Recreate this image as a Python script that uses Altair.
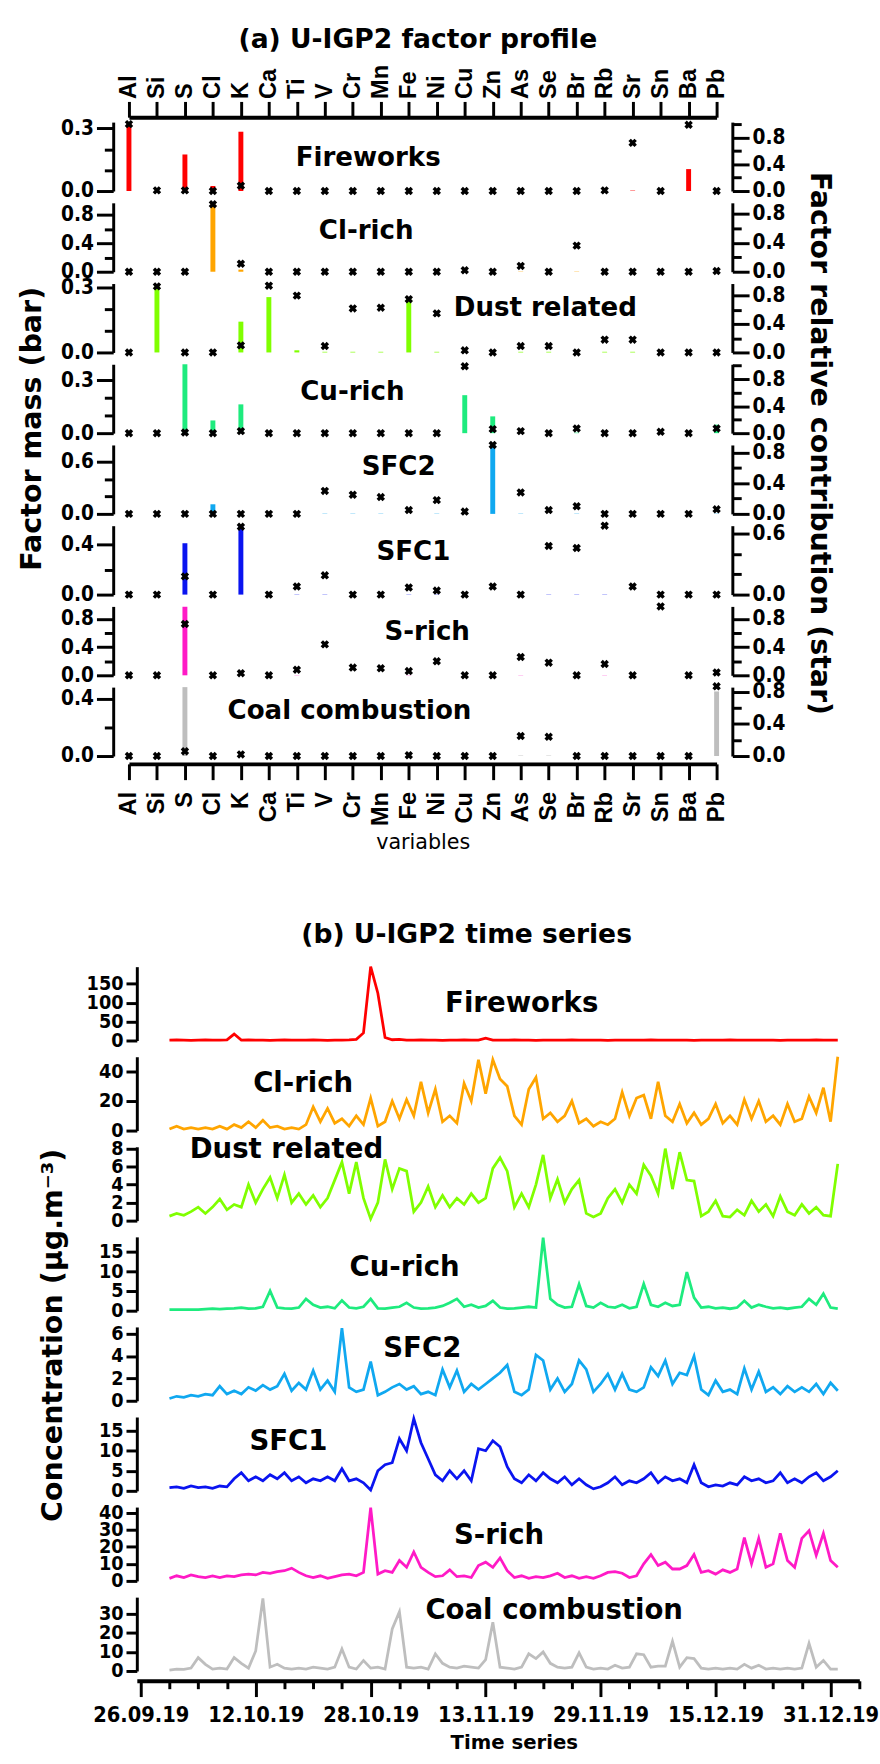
import json
import altair as alt
import pandas as pd

# ---------------- data: factor profiles ----------------
elements = ["Al", "Si", "S", "Cl", "K", "Ca", "Ti", "V", "Cr", "Mn", "Fe", "Ni",
            "Cu", "Zn", "As", "Se", "Br", "Rb", "Sr", "Sn", "Ba", "Pb"]
factors = ["Fireworks", "Cl-rich", "Dust related", "Cu-rich", "SFC2", "SFC1",
           "S-rich", "Coal combustion"]
colors = ["#FF0000", "#FFA500", "#80FF00", "#1EEB7E", "#10A8F0", "#0A14F0",
          "#FF1AC6", "#BEBEBE"]

mass_fireworks = [0.324, 0, 0.175, 0.024, 0.284, 0, 0, 0, 0, 0, 0, 0, 0, 0, 0, 0, 0, 0, 0.002, 0, 0.105, 0]
mass_clrich = [0, 0, 0, 0.96, 0.03, 0, 0, 0, 0, 0, 0, 0, 0, 0, 0.004, 0, 0.004, 0, 0, 0, 0, 0]
mass_dust = [0, 0.315, 0, 0, 0.143, 0.257, 0.01, 0.003, 0.003, 0.003, 0.254, 0.003, 0, 0, 0.003, 0.003, 0, 0.003, 0.003, 0, 0, 0]
mass_curich = [0, 0, 0.39, 0.072, 0.163, 0, 0, 0, 0, 0, 0, 0, 0.215, 0.095, 0, 0, 0.003, 0, 0.002, 0, 0, 0.048]
mass_sfc2 = [0, 0, 0, 0.11, 0, 0, 0, 0.003, 0.003, 0.003, 0, 0.003, 0, 0.79, 0.003, 0, 0.003, 0, 0, 0, 0, 0.003]
mass_sfc1 = [0, 0, 0.41, 0, 0.546, 0, 0.002, 0.002, 0, 0, 0.002, 0.002, 0, 0, 0.002, 0.002, 0.002, 0.002, 0, 0, 0, 0]
mass_srich = [0, 0, 0.975, 0, 0, 0, 0.003, 0, 0, 0, 0.003, 0, 0, 0.003, 0.003, 0, 0, 0.003, 0.003, 0, 0, 0]
mass_coal = [0, 0, 0.48, 0, 0.02, 0, 0, 0, 0, 0, 0, 0, 0, 0, 0.003, 0.003, 0, 0, 0, 0, 0, 0.45]

rel_fireworks = [1.0, 0.01, 0.01, 0.0, 0.08, 0, 0, 0, 0, 0, 0, 0, 0, 0, 0, 0, 0, 0.01, 0.72, 0, 0.99, 0]
rel_clrich = [0, 0, 0, 0.93, 0.11, 0, 0, 0, 0, 0, 0, 0, 0.02, 0, 0.08, 0, 0.36, 0, 0, 0, 0, 0.01]
rel_dust = [0, 0.93, 0, 0, 0.10, 0.94, 0.80, 0.09, 0.62, 0.63, 0.75, 0.55, 0.03, 0, 0.09, 0.09, 0, 0.18, 0.18, 0, 0, 0]
rel_curich = [0, 0, 0.01, 0, 0.03, 0, 0, 0, 0, 0, 0, 0, 0.99, 0.06, 0.03, 0, 0.07, 0, 0, 0.02, 0, 0.07]
rel_sfc2 = [0, 0, 0, 0, 0, 0, 0, 0.30, 0.25, 0.22, 0.05, 0.18, 0.03, 0.90, 0.28, 0.05, 0.10, 0, 0, 0, 0, 0.06]
rel_sfc1 = [0, 0, 0.18, 0, 0.67, 0, 0.08, 0.19, 0, 0, 0.07, 0.04, 0, 0.08, 0, 0.48, 0.46, 0.68, 0.08, 0, 0, 0]
rel_srich = [0, 0, 0.73, 0, 0.03, 0, 0.08, 0.44, 0.11, 0.10, 0.06, 0.20, 0, 0, 0.26, 0.18, 0, 0.16, 0, 0.98, 0, 0.04]
rel_coal = [0, 0, 0.06, 0, 0.02, 0, 0, 0, 0, 0, 0.01, 0, 0, 0, 0.25, 0.24, 0, 0, 0, 0, 0, 0.87]

masses = [mass_fireworks, mass_clrich, mass_dust, mass_curich, mass_sfc2, mass_sfc1, mass_srich, mass_coal]
rels = [rel_fireworks, rel_clrich, rel_dust, rel_curich, rel_sfc2, rel_sfc1, rel_srich, rel_coal]

left_max = [0.33, 0.97, 0.32, 0.39, 0.79, 0.55, 0.98, 0.48]
right_max = [1.03, 0.95, 0.97, 1.02, 0.90, 0.68, 0.98, 0.86]
left_ticks = [[0, 0.1, 0.2, 0.3], [0, 0.2, 0.4, 0.6, 0.8], [0, 0.1, 0.2, 0.3], [0, 0.1, 0.2, 0.3],
              [0, 0.2, 0.4, 0.6], [0, 0.2, 0.4], [0, 0.2, 0.4, 0.6, 0.8], [0, 0.2, 0.4]]
left_major = [[0, 0.3], [0, 0.4, 0.8], [0, 0.3], [0, 0.3], [0, 0.6], [0, 0.4], [0, 0.4, 0.8], [0, 0.4]]
right_ticks = [[0, 0.2, 0.4, 0.6, 0.8, 1.0], [0, 0.2, 0.4, 0.6, 0.8], [0, 0.2, 0.4, 0.6, 0.8],
               [0, 0.2, 0.4, 0.6, 0.8, 1.0], [0, 0.2, 0.4, 0.6, 0.8], [0, 0.2, 0.4, 0.6],
               [0, 0.2, 0.4, 0.6, 0.8], [0, 0.2, 0.4, 0.6, 0.8]]
right_major = [[0, 0.4, 0.8], [0, 0.4, 0.8], [0, 0.4, 0.8], [0, 0.4, 0.8], [0, 0.4, 0.8], [0, 0.6],
               [0, 0.4, 0.8], [0, 0.4, 0.8]]

# ---------------- data: time series (daily, 30.09.2019 - 01.01.2020) ----------------
ts_dates = [d.strftime("%Y-%m-%dT00:00:00") for d in pd.date_range("2019-09-30", periods=94, freq="D")]

ts_fireworks = [1, 1.5, 1, 0.5, 1, 1.5, 1, 1, 1.5,
                17,
                1, 1.5, 1, 1, 0.5, 1, 1.5, 1, 1, 1, 1.5, 1, 0.5, 1, 1, 1.5,
                3, 20, 195, 125, 8, 2, 3,
                1, 1, 1.5, 1, 1, 0.5, 1, 1, 1.5, 1, 1,
                6,
                1, 1, 1, 1.5, 1, 1, 0.5, 1, 1, 1, 1, 1.5, 1, 1, 1, 1, 0.5, 1, 1, 1,
                1, 1, 1.5, 1, 1, 1, 1, 1, 0.5, 1, 1, 1, 1, 1.5, 1, 1, 1, 1, 1, 1,
                0.5, 1, 1, 1, 1, 1.5, 1, 1, 1]
ts_clrich = [1, 3, 1, 2, 1, 2, 1, 3, 1, 4,
             2, 6, 2, 7, 2, 3, 1, 2, 1, 4,
             16, 6, 15, 5, 8, 3, 10, 4, 22, 3,
             6, 20, 8, 21, 10, 33, 12, 28, 6, 10,
             5, 32, 20, 48, 25, 48, 35, 30, 10, 4,
             28, 36, 8, 12, 6, 10, 20, 5, 8, 3,
             6, 4, 8, 26, 10, 22, 24, 8, 33, 10,
             6, 18, 5, 12, 4, 8, 18, 5, 10, 4,
             21, 8, 20, 6, 10, 4, 18, 6, 8, 23,
             12, 29, 6, 50]
ts_dust = [0.5, 0.8, 0.6, 1.0, 1.5, 0.8, 1.5, 2.4, 1.2, 1.8,
           1.5, 4.0, 2.0, 3.5, 4.8, 2.5, 5.1, 2.0, 3.0, 1.8,
           2.8, 1.5, 2.5, 4.5, 6.5, 3.0, 6.5, 2.5, 0.2, 2.0,
           6.8, 3.5, 5.8, 5.5, 1.0, 2.0, 3.8, 1.5, 2.8, 1.5,
           2.5, 1.8, 3.0, 2.0, 2.5, 5.8, 7.0, 5.5, 1.5, 3.0,
           1.5, 4.0, 7.3, 2.5, 4.6, 2.0, 3.5, 4.5, 0.8, 0.4,
           0.8, 2.5, 3.5, 2.0, 4.0, 3.0, 6.2, 5.0, 3.0, 8.0,
           3.5, 7.6, 4.5, 4.4, 0.5, 1.0, 2.2, 0.5, 0.4, 1.2,
           0.6, 2.2, 1.0, 1.8, 0.5, 2.7, 1.0, 0.6, 1.8, 0.8,
           1.5, 0.6, 0.5, 6.3]
ts_curich = [0.3, 0.3, 0.3, 0.3, 0.3, 0.4, 0.5, 0.4, 0.5, 0.6,
             0.8, 0.5, 0.6, 1.0, 5.0, 0.8, 0.6, 0.5, 0.8, 3.0,
             1.5, 0.8, 1.0, 0.6, 2.6, 0.8, 0.6, 1.0, 3.0, 0.6,
             0.5, 0.8, 1.0, 2.0, 0.8, 0.5, 0.6, 0.8, 1.2, 2.0,
             3.0, 1.0, 1.5, 0.8, 1.2, 2.5, 0.8, 0.5, 0.6, 0.8,
             1.0, 0.8, 18.5, 3.0, 1.5, 0.8, 1.0, 6.7, 1.2, 0.8,
             2.0, 1.0, 0.8, 1.5, 0.6, 1.0, 6.8, 1.5, 1.0, 2.0,
             1.2, 1.5, 9.8, 3.3, 0.8, 1.0, 0.6, 0.8, 0.5, 0.8,
             2.5, 0.8, 1.5, 1.0, 0.6, 0.8, 0.5, 0.8, 1.0, 3.0,
             1.5, 4.3, 0.8, 0.5]
ts_sfc2 = [0.2, 0.4, 0.3, 0.5, 0.4, 0.6, 0.5, 1.3, 0.6, 0.9,
           0.6, 1.2, 0.9, 1.4, 1.0, 1.3, 2.4, 0.9, 1.6, 1.0,
           2.7, 1.0, 1.8, 0.8, 6.5, 1.2, 0.8, 1.0, 3.5, 0.5,
           0.8, 1.2, 1.5, 1.0, 1.3, 0.6, 0.8, 0.5, 2.8, 1.2,
           2.7, 0.8, 1.5, 1.0, 1.5, 2.0, 2.5, 3.2, 0.8, 0.5,
           1.0, 4.1, 3.6, 1.0, 2.0, 0.8, 1.5, 3.6, 2.8, 0.8,
           1.5, 2.4, 1.0, 2.4, 1.0, 0.8, 1.2, 3.0, 2.2, 3.6,
           1.5, 2.5, 2.3, 4.0, 1.0, 0.5, 1.8, 0.8, 1.0, 0.6,
           2.9, 1.0, 2.6, 0.8, 1.2, 0.6, 1.3, 0.8, 1.2, 0.8,
           1.5, 0.6, 1.6, 0.9]
ts_sfc1 = [0.8, 1.0, 0.6, 1.2, 0.8, 1.0, 0.6, 1.2, 1.0, 3.0,
           4.5, 2.5, 3.5, 2.5, 4.0, 3.0, 4.5, 2.5, 3.5, 2.0,
           3.0, 2.5, 3.5, 2.5, 5.5, 2.5, 3.0, 2.0, 0.2, 5.0,
           6.5, 7.0, 13.0, 10.0, 18.0, 12.0, 8.0, 4.0, 2.5, 5.0,
           3.0, 5.0, 2.5, 10.5, 10.0, 12.5, 11.0, 6.0, 3.0, 2.0,
           4.0, 2.5, 4.5, 3.0, 2.0, 3.5, 1.5, 3.0, 1.5, 0.5,
           1.0, 2.0, 3.5, 1.5, 2.5, 2.0, 3.0, 4.5, 2.0, 3.5,
           2.5, 3.0, 2.0, 6.5, 2.0, 1.0, 1.5, 1.2, 2.0, 1.5,
           3.5, 2.5, 3.0, 2.0, 2.5, 4.5, 2.0, 3.0, 2.0, 3.5,
           4.5, 2.5, 3.5, 5.0]
ts_srich = [1.5, 3.0, 2.0, 3.5, 2.5, 2.0, 3.0, 2.0, 3.0, 2.5,
            3.5, 4.0, 3.5, 5.0, 4.5, 5.5, 6.0, 7.5, 5.0, 3.0,
            2.0, 3.0, 1.5, 2.5, 3.5, 4.0, 3.0, 5.0, 43.0, 4.0,
            6.0, 5.0, 12.0, 8.0, 17.0, 8.0, 5.0, 2.5, 3.0, 6.5,
            2.5, 3.0, 2.0, 9.0, 11.0, 8.0, 13.5, 6.0, 2.0, 3.0,
            1.5, 2.5, 2.0, 3.0, 4.5, 2.0, 3.0, 1.5, 2.5, 1.5,
            3.0, 5.0, 5.5, 4.5, 2.0, 3.0, 10.0, 15.5, 9.0, 11.0,
            7.0, 7.0, 9.0, 15.5, 5.0, 6.0, 4.0, 6.5, 5.0, 7.0,
            25.5, 10.0, 25.0, 8.0, 10.0, 28.0, 12.0, 8.0, 25.0, 29.5,
            15.0, 28.0, 12.0, 8.0]
ts_coal = [0.5, 1.0, 0.8, 1.5, 7.0, 3.5, 1.0, 1.5, 1.0, 7.0,
           4.0, 1.5, 10.5, 38.0, 2.0, 3.5, 1.5, 1.0, 1.5, 1.0,
           2.0, 1.5, 1.0, 2.0, 11.5, 2.0, 1.0, 5.5, 1.5, 2.0,
           1.0, 22.0, 31.0, 2.0, 1.5, 2.0, 1.0, 9.0, 4.0, 2.0,
           1.5, 2.5, 2.0, 1.5, 6.0, 25.5, 2.0, 1.5, 1.0, 2.0,
           9.0, 6.5, 10.0, 4.0, 2.0, 1.5, 2.0, 9.5, 2.0, 1.0,
           1.5, 1.0, 3.0, 1.5, 2.0, 9.0, 8.5, 2.0, 2.5, 2.5,
           15.5, 2.0, 7.0, 6.5, 1.5, 1.0, 1.5, 1.0, 1.5, 1.0,
           3.5, 1.5, 3.0, 1.0, 1.5, 1.0, 1.5, 1.0, 1.5, 14.5,
           2.0, 5.5, 1.0, 1.0]

ts_series = [ts_fireworks, ts_clrich, ts_dust, ts_curich, ts_sfc2, ts_sfc1, ts_srich, ts_coal]
for s in ts_series:
    assert len(s) == len(ts_dates), len(s)

ts_max = [195, 50, 8.2, 18.7, 6.6, 18.4, 43.4, 38.7]
ts_ticks = [[0, 50, 100, 150], [0, 20, 40], [0, 2, 4, 6, 8], [0, 5, 10, 15], [0, 2, 4, 6],
            [0, 5, 10, 15], [0, 10, 20, 30, 40], [0, 10, 20, 30]]
time_ticks = pd.date_range("2019-09-26", "2020-01-04", freq="4D")

# ---------------- styling ----------------
BIG = "DejaVu Sans"
TICKF = "'Liberation Sans Narrow', 'DejaVu Sans Condensed', 'Liberation Sans', sans-serif"
ELEMF = "Liberation Sans"

PW, PH, PSP = 629, 70, 12
TSHIFT = 24                      # time-series axis sits this far right of the profile axis
TW, TH, TSP = 734 + TSHIFT, 75, 16.5

prof_label_pos = [(259, 37), (257, 29), (439, 25), (243, 28), (290, 22), (305, 27), (319, 26), (240, 24)]
ts_label_pos = [(391, 38), (169, 28), (152, 3), (272, 32), (290, 23), (154, 26), (368, 30), (424, 14)]

common_axis = dict(tickColor="black", domainColor="black", labelColor="black",
                   tickWidth=3, domainWidth=3, grid=False, labelOverlap=False)


def label_layer(text, x, y, size):
    return alt.Chart(pd.DataFrame({"t": [text]})).mark_text(
        font=BIG, fontSize=size, fontWeight="bold", color="black",
        align="center", baseline="middle").encode(
        x=alt.value(x), y=alt.value(y), text="t:N")


def prof_panel(k):
    df = pd.DataFrame({"element": elements, "mass": masses[k], "rel": rels[k]})
    if k == 0:
        xaxis = alt.Axis(orient="top", title=None, labelAngle=270, labelAlign="left",
                         labelBaseline="middle", labelFont=ELEMF, labelFontSize=24,
                         labelFontWeight="bold", tickSize=16, labelPadding=3, offset=5,
                         **dict(common_axis, domainWidth=4))
    elif k == 7:
        xaxis = alt.Axis(orient="bottom", title="variables", labelAngle=270, labelAlign="right",
                         labelBaseline="middle", labelFont=ELEMF, labelFontSize=24,
                         labelFontWeight="bold", tickSize=16, labelPadding=12, offset=8,
                         titleFont=BIG, titleFontSize=21, titleFontWeight="normal",
                         titleColor="black", titlePadding=6,
                         **dict(common_axis, domainWidth=4))
    else:
        xaxis = None
    xenc = alt.X("element:N", sort=elements,
                 scale=alt.Scale(type="point", range=[16, 613], padding=0), axis=xaxis)

    tl = f"indexof({json.dumps(left_major[k])}, datum.value) >= 0"
    tr = f"indexof({json.dumps(right_major[k])}, datum.value) >= 0"
    laxis = dict(orient="left", values=left_ticks[k],
                 labelExpr=f"{tl} ? format(datum.value, '.1f') : ''",
                 tickSize={"condition": {"test": tl, "value": 17}, "value": 9},
                 labelFont=TICKF, labelFontSize=21, labelFontWeight="bold", labelPadding=3,
                 **common_axis)
    raxis = dict(orient="right", values=right_ticks[k],
                 labelExpr=f"{tr} ? format(datum.value, '.1f') : ''",
                 tickSize={"condition": {"test": tr, "value": 17}, "value": 9},
                 labelFont=TICKF, labelFontSize=21, labelFontWeight="bold", labelPadding=3,
                 **common_axis)
    if k == 4:
        laxis.update(title="Factor mass (bar)", titleFont=BIG, titleFontSize=29,
                     titleFontWeight="bold", titleColor="black", titleY=-17, titlePadding=14)
        raxis.update(title="Factor relative contribution (star)", titleFont=BIG, titleFontSize=29,
                     titleFontWeight="bold", titleColor="black", titleY=-2, titlePadding=20,
                     titleAngle=90)
    else:
        laxis.update(title=None)
        raxis.update(title=None)

    bars = alt.Chart(df).mark_bar(size=5, color=colors[k]).encode(
        x=xenc,
        y=alt.Y("mass:Q", scale=alt.Scale(domain=[0, left_max[k]], nice=False, zero=True),
                axis=alt.Axis(**laxis)))
    stars = alt.Chart(df).mark_point(shape="cross", angle=45, filled=True, size=75,
                                     color="black", opacity=1, strokeWidth=0).encode(
        x=xenc,
        y=alt.Y("rel:Q", scale=alt.Scale(domain=[0, right_max[k]], nice=False, zero=True),
                axis=alt.Axis(**raxis)))
    lx, ly = prof_label_pos[k]
    lab = label_layer(factors[k], lx, ly, 26.5)
    return alt.layer(bars, stars, lab).resolve_scale(y="independent").properties(width=PW, height=PH)


def ts_panel(k):
    df = pd.DataFrame({"date": ts_dates, "v": ts_series[k]})
    if k == 7:
        tt = "round((datum.value - datetime(2019, 8, 26)) / 86400000) % 16 == 0"
        xaxis = alt.Axis(orient="bottom",
                         values=[alt.DateTime(year=d.year, month=d.month, date=d.day) for d in time_ticks],
                         labelExpr=f"{tt} ? timeFormat(datum.value, '%d.%m.%y') : ''",
                         tickSize={"condition": {"test": tt, "value": 16}, "value": 8},
                         labelFont=TICKF, labelFontSize=22, labelFontWeight="bold",
                         labelPadding=8, labelBound=False, labelFlush=False,
                         offset=10, title="Time series", titleFont=BIG, titleFontSize=20,
                         titleFontWeight="bold", titleColor="black", titlePadding=8,
                         titleX=383 + TSHIFT,
                         **dict(common_axis, domainWidth=4))
    else:
        xaxis = None
    x = alt.X("date:T",
              scale=alt.Scale(domain=[alt.DateTime(year=2019, month=9, date=25, hours=11),
                                      alt.DateTime(year=2020, month=1, date=4)],
                              range=[TSHIFT, TW]),
              axis=xaxis)
    yaxis = dict(orient="left", values=ts_ticks[k], format="d", tickSize=11, offset=-TSHIFT,
                 labelFont=TICKF, labelFontSize=20, labelFontWeight="bold", labelPadding=3,
                 **common_axis)
    if k == 4:
        yaxis.update(title="Concentration (µg.m⁻³)", titleFont=BIG, titleFontSize=29,
                     titleFontWeight="bold", titleColor="black", titleY=8, titlePadding=44)
    else:
        yaxis.update(title=None)
    line = alt.Chart(df).mark_line(color=colors[k], strokeWidth=2.8).encode(
        x=x, y=alt.Y("v:Q", scale=alt.Scale(domain=[0, ts_max[k]], nice=False),
                     axis=alt.Axis(**yaxis)))
    lx, ly = ts_label_pos[k]
    lab = label_layer(factors[k], lx + TSHIFT, ly, 28)
    return alt.layer(line, lab).properties(width=TW, height=TH)


group_a = alt.vconcat(*[prof_panel(k) for k in range(8)], spacing=PSP, bounds="flush").properties(
    title=alt.TitleParams("(a) U-IGP2 factor profile", font=BIG, fontSize=27,
                          fontWeight="bold", color="black", anchor="middle", offset=10, dx=-8))
group_b = alt.vconcat(*[ts_panel(k) for k in range(8)], spacing=TSP, bounds="flush").properties(
    title=alt.TitleParams("(b) U-IGP2 time series", font=BIG, fontSize=27,
                          fontWeight="bold", color="black", anchor="middle", offset=12, dx=8))

chart = alt.vconcat(group_a, group_b, spacing=68).properties(
    padding={"left": 18, "top": 12, "right": 0, "bottom": 0},
    background="white",
).configure_view(stroke="transparent")

chart.save("out.html", embed_options={"renderer": "svg", "actions": False})
